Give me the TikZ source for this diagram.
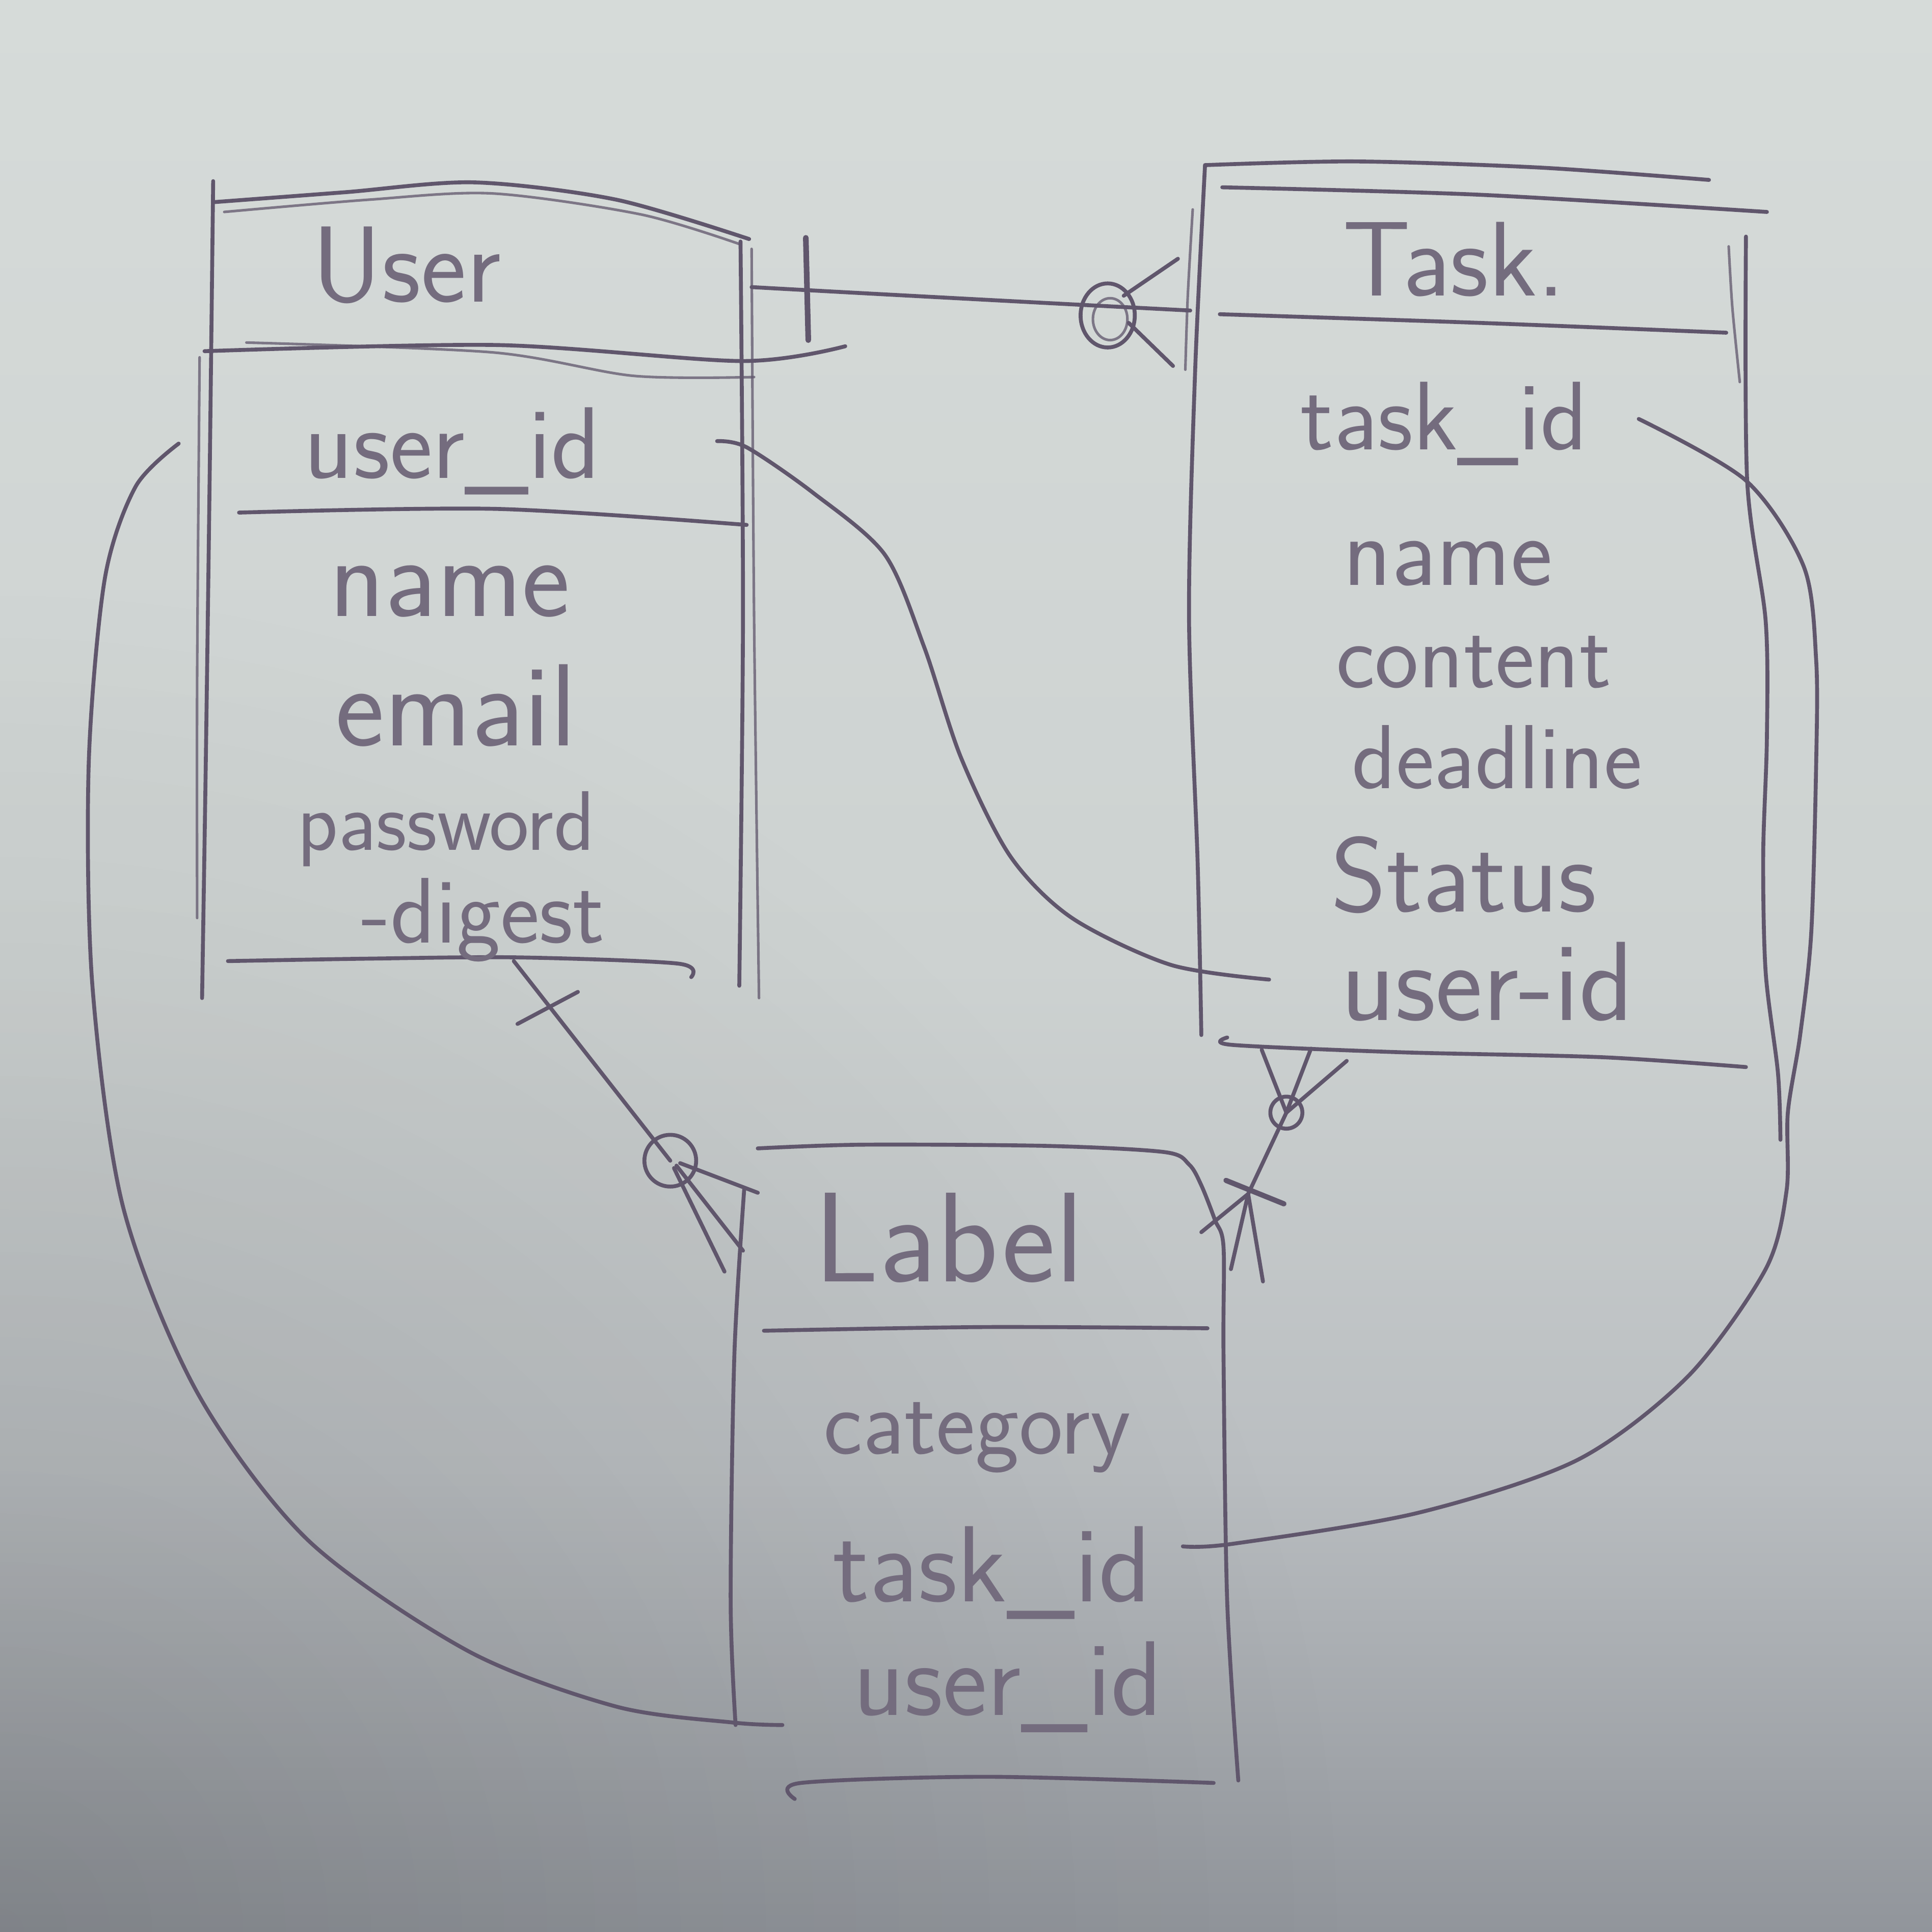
\documentclass[tikz,border=0pt]{standalone}
\usepackage{fontspec}
\usetikzlibrary{calc,fadings}
\definecolor{pencil}{RGB}{96,86,108}
\definecolor{papertop}{RGB}{214,219,217}
\definecolor{papermid}{RGB}{205,210,209}
\definecolor{paperlow}{RGB}{186,190,193}
\definecolor{paperbot}{RGB}{145,149,155}
\pgfdeclareverticalshading{paper}{100bp}{color(0bp)=(paperbot); color(25bp)=(paperbot); color(37bp)=(paperlow); color(50bp)=(papermid); color(75bp)=(papertop); color(100bp)=(papertop)}
\tikzfading[name=softspot, inner color=transparent!0, outer color=transparent!100]
\newcommand{\hwsize}[1]{\sffamily\fontsize{#1}{#1}\selectfont}
\begin{document}
\begin{tikzpicture}[x=0.01cm,y=-0.01cm,
  pen/.style={draw=pencil,line width=0.9pt,line cap=round,line join=round},
  faint/.style={pen,line width=0.6pt,draw opacity=0.75},
  hw/.style={text=pencil!82!papermid,inner sep=0pt,anchor=base},
]
\shade[shading=paper] (0,0) rectangle (1568,1568);
\begin{scope}
\clip (0,0) rectangle (1568,1568);
\fill[black,opacity=0.12,path fading=softspot] (0,1568) circle[radius=1100];
\end{scope}
\useasboundingbox (0,0) rectangle (1568,1568);

% ---------------- User table ----------------
\draw[pen] plot[smooth] coordinates {(173,147) (170,400) (167,620) (164,810)};
\draw[faint] plot[smooth] coordinates {(162,290) (160,550) (160,745)};
\draw[pen] plot[smooth] coordinates {(174,164) (280,156) (385,148) (500,162) (608,194)};
\draw[faint] plot[smooth] coordinates {(182,172) (300,162) (400,157) (520,174) (600,198)};
\draw[pen] plot[smooth] coordinates {(601,196) (603,500) (600,800)};
\draw[faint] plot[smooth] coordinates {(610,202) (612,500) (616,810)};
\draw[pen] plot[smooth] coordinates {(166,285) (403,280) (602,293) (686,281)};
\draw[faint] plot[smooth] coordinates {(200,278) (400,286) (514,305) (612,306)};
\draw[pen] plot[smooth] coordinates {(194,416) (403,413) (606,426)};
\draw[pen] plot[smooth] coordinates {(185,780) (300,778) (420,777) (550,782) (561,793)};

\node[hw,font=\hwsize{25}] (userT) at (330,245) {User};
\node[hw,font=\hwsize{23.5}] (userId) at (367,388) {user\_id};
\node[hw,font=\hwsize{26.5}] (userName) at (365,500) {name};
\node[hw,font=\hwsize{27}] (userEmail) at (370,605) {email};
\node[hw,font=\hwsize{19.5}] (userPw) at (362,690) {password};
\node[hw,font=\hwsize{21.5}] (userDg) at (392,765) {-digest};

% ---------------- Task table ----------------
\draw[pen] plot[smooth] coordinates {(978,134) (1100,131) (1250,136) (1387,146)};
\draw[pen] plot[smooth] coordinates {(992,152) (1200,158) (1434,172)};
\draw[pen] plot[smooth] coordinates {(978,134) (970,300) (965,500) (972,700) (975,840)};
\draw[faint] plot[smooth] coordinates {(968,170) (964,240) (962,300)};
\draw[faint] plot[smooth] coordinates {(1403,200) (1406,250) (1412,310)};
\draw[pen] plot[smooth] coordinates {(1417,192) (1418,390) (1433,504) (1434,599) (1431,694) (1433,789) (1443,871) (1445,925)};
\draw[pen] plot[smooth] coordinates {(990,255) (1200,262) (1401,270)};
\draw[pen] plot[smooth] coordinates {(996,842) (1000,848) (1137,854) (1300,858) (1417,866)};

\node[hw,font=\hwsize{24.5}] (taskT) at (1180,240) {Task.};
\node[hw,font=\hwsize{22.5}] (taskId) at (1172,365) {task\_id};
\node[hw,font=\hwsize{23}] (taskName) at (1175,475) {name};
\node[hw,font=\hwsize{21.5}] (taskContent) at (1196,558) {content};
\node[hw,font=\hwsize{21}] (taskDeadline) at (1215,640) {deadline};
\node[hw,font=\hwsize{24.5}] (taskStatus) at (1188,740) {Status};
\node[hw,font=\hwsize{26}] (taskUid) at (1207,828) {user-id};

% ---------------- Label table ----------------
\draw[pen] plot[smooth] coordinates {(615,932) (700,929) (850,930) (945,935) (965,945) (975,962) (986,990) (993,1012) (993,1100) (996,1300) (1005,1445)};
\draw[pen] plot[smooth] coordinates {(604,965) (596,1100) (593,1300) (597,1400)};
\draw[pen] plot[smooth] coordinates {(620,1080) (800,1077) (980,1078)};
\draw[pen] plot[smooth] coordinates {(645,1460) (650,1447) (800,1442) (985,1447)};

\node[hw,font=\hwsize{29.5}] (labelT) at (770,1040) {Label};
\node[hw,font=\hwsize{21.5}] (labelCat) at (793,1180) {category};
\node[hw,font=\hwsize{25}] (labelTid) at (805,1300) {task\_id};
\node[hw,font=\hwsize{24.5}] (labelUid) at (818,1392) {user\_id};

% ---------------- connector anchors ----------------
\coordinate (UR) at (610,233);
\coordinate (TL) at (966,252);
\coordinate (UID) at (582,358);
\coordinate (TUID) at (1030,795);
\coordinate (UB) at (417,780);
\coordinate (LC) at (544,942);
\coordinate (TB) at (1044,903);
\coordinate (LX) at (1013,969);
\coordinate (LUID) at (635,1400);
\coordinate (UL) at (145,360);
\coordinate (LTID) at (960,1255);
\coordinate (TTID) at (1330,340);

% User -- Task (one to zero-or-many)
\draw[pen] (UR) .. controls (700,238) and (850,246) .. (TL);
\draw[pen,line width=1.3pt] (654,193) -- (656,276);
\draw[pen] (899,256) ellipse (22 and 26);
\draw[faint] (901,259) ellipse (14 and 17);
\draw[pen] (912,240) -- (956,210);
\draw[pen] (916,262) -- (952,297);

% User.user_id -- Task.user_id
\draw[pen] plot[smooth] coordinates {(UID) (606,363) (660,400) (718,450) (750,525) (780,615) (820,695) (870,745) (950,783) (TUID)};

% User -- Label (one to zero-or-many)
\draw[pen] (UB) -- (LC);
\draw[pen] (420,831) -- (469,805);
\draw[pen] (LC) circle[radius=21];
\draw[pen] (547,948) -- (588,1032);
\draw[pen] (549,946) -- (603,1015);
\draw[pen] (552,944) -- (615,968);

% Task -- Label (zero-or-many to one-or-many)
\draw[pen] (TB) circle[radius=13];
\draw[pen] (TB) -- (1024,852);
\draw[pen] (TB) -- (1064,851);
\draw[pen] (TB) -- (1093,861);
\draw[pen] (TB) -- (LX);
\draw[pen,line width=1.2pt] (995,958) -- (1042,977);
\draw[pen] (LX) -- (975,1000);
\draw[pen] (LX) -- (999,1030);
\draw[pen] (LX) -- (1025,1040);

% Label.user_id -- User (left loop)
\draw[pen] plot[smooth] coordinates {(LUID) (595,1398) (500,1385) (380,1340) (250,1250) (160,1130) (100,980) (75,800) (72,620) (85,470) (110,395) (UL)};

% Label.task_id -- Task.task_id (right loop)
\draw[pen] plot[smooth] coordinates {(LTID) (1000,1253) (1150,1228) (1280,1185) (1370,1117) (1433,1030) (1450,966) (1451,903) (1461,840) (1470,757) (1474,619) (1474,536) (1464,460) (1417,390) (TTID)};
\end{tikzpicture}
\end{document}
